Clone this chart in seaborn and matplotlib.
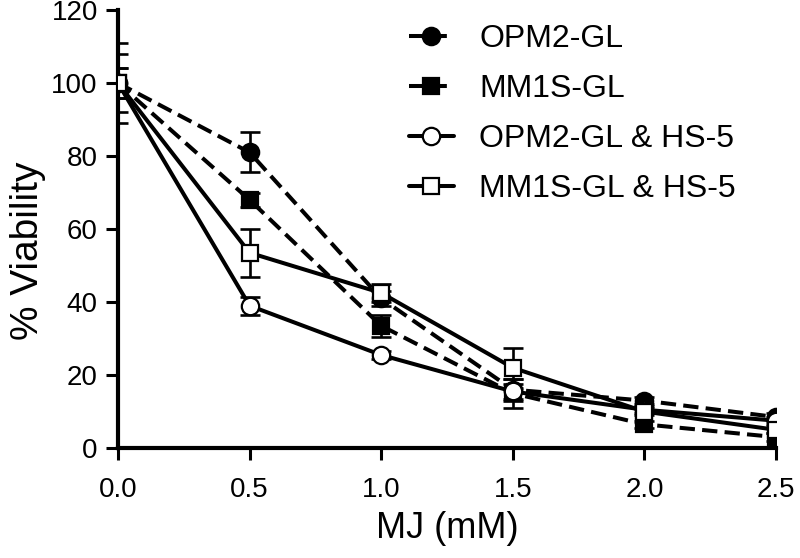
import matplotlib
matplotlib.use("Agg")
import matplotlib.pyplot as plt
import seaborn as sns

# data
dose = [0.0, 0.5, 1.0, 1.5, 2.0, 2.5]

opm2 = [100, 81, 41, 16, 13, 8.5]
mm1s = [100, 68, 33.5, 15, 6.5, 3]
opm2_hs5 = [100, 39, 25.5, 15.5, 10.5, 7.5]
mm1s_hs5 = [100, 53.5, 42.5, 22, 10, 5]

opm2_err = [11, 5.5, 2, 3, 1, 1]
mm1s_err = [8, 2, 3, 4, 1, 1]
opm2_hs5_err = [4, 2.5, 1, 2, 1, 1]
mm1s_hs5_err = [4, 6.5, 2.5, 5.5, 1, 1]

labels = ["OPM2-GL", "MM1S-GL", "OPM2-GL & HS-5", "MM1S-GL & HS-5"]
yticks = [0, 20, 40, 60, 80, 100, 120]
xticks = [0.0, 0.5, 1.0, 1.5, 2.0, 2.5]

sns.set_style("ticks")
plt.rcParams['font.family'] = ['Liberation Sans Narrow', 'Liberation Sans', 'DejaVu Sans']
for k in ["text.color", "axes.labelcolor", "xtick.color", "ytick.color", "axes.edgecolor"]:
    plt.rcParams[k] = "black"

fig = plt.figure(figsize=(8, 5.58), dpi=100)
ax = fig.add_axes([0.1475, 0.197, 0.8225, 0.785])

series = [
    (opm2, opm2_err, "o", "black", (3.8, 1.8), 12.5),
    (mm1s, mm1s_err, "s", "black", (3.8, 1.8), 11.5),
    (opm2_hs5, opm2_hs5_err, "o", "white", None, 12.5),
    (mm1s_hs5, mm1s_hs5_err, "s", "white", None, 11.5),
]

for (vals, err, mk, fc, dash, ms), lab in zip(series, labels):
    ax.errorbar(dose, vals, yerr=err, fmt="none", ecolor="black",
                elinewidth=1.9, capsize=7, capthick=1.9, zorder=2)
    sns.lineplot(x=dose, y=vals, ax=ax, color="black", linewidth=2.9,
                 marker=mk, markersize=ms, markerfacecolor=fc,
                 markeredgecolor="black", markeredgewidth=1.6,
                 label=lab, zorder=3)
    if dash is not None:
        ax.lines[-1].set_dashes(dash)

ax.set_xlim(0, 2.5)
ax.set_ylim(0, 120)
ax.set_xticks(xticks)
ax.set_xticklabels([f"{t:.1f}" for t in xticks])
ax.set_yticks(yticks)
ax.tick_params(axis="both", width=2.2, length=8.5, labelsize=20)
ax.tick_params(axis="x", pad=12)
ax.tick_params(axis="y", pad=6)
for s in ["left", "bottom"]:
    ax.spines[s].set_linewidth(3)
for s in ["top", "right"]:
    ax.spines[s].set_visible(False)

ax.set_xlabel("MJ (mM)", fontsize=26, labelpad=6)
ax.set_ylabel("% Viability", fontsize=28)
ax.yaxis.set_label_coords(-0.11, 0.45)

ax.legend(loc="upper left", bbox_to_anchor=(0.495, 0.98), bbox_transform=fig.transFigure,
          borderaxespad=0, frameon=False, fontsize=23, handlelength=1.4,
          labelspacing=0.63, handletextpad=0.8)

fig.savefig("out.png", dpi=100)
